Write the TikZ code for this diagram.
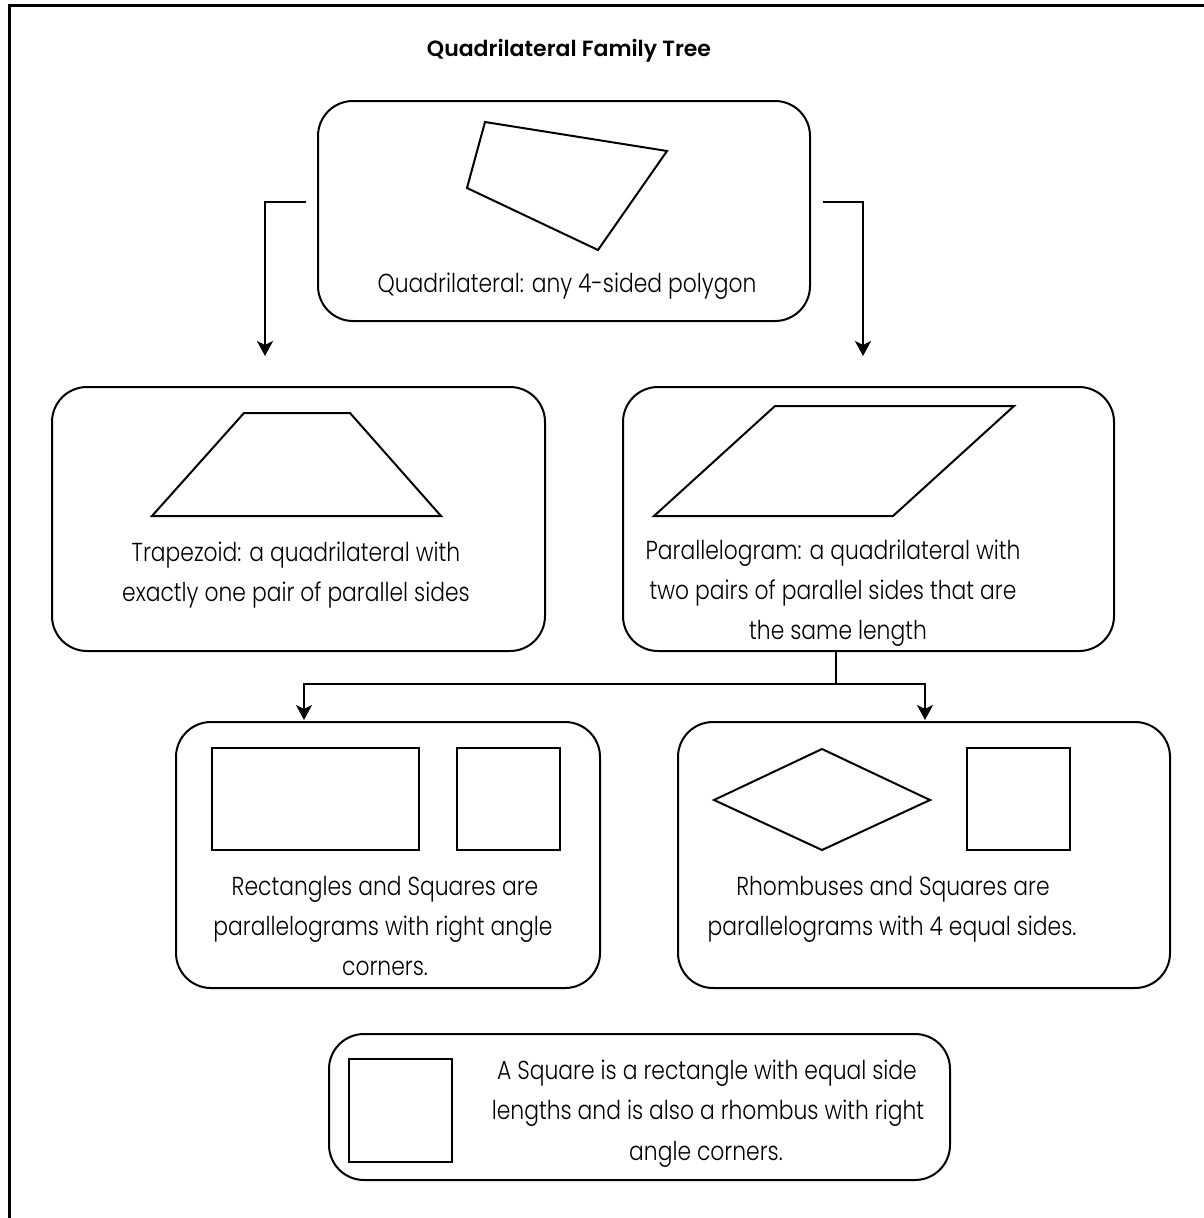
\documentclass[tikz,border=0pt]{standalone}
\usepackage{fontspec}
\setmainfont{Poppins}[UprightFont=* Light, BoldFont=* SemiBold, FakeStretch=0.84]
\newfontfamily\titlefont{Poppins}[UprightFont=* SemiBold]
\usetikzlibrary{arrows.meta}
\begin{document}
\begin{tikzpicture}[x=1pt,y=-1pt,
  box/.style={draw, line width=2pt, rounded corners=35pt, inner sep=0pt},
  shp/.style={draw, line width=2pt, line join=miter},
  lbl/.style={anchor=base, inner sep=0pt, font=\fontsize{26}{40}\selectfont},
  conn/.style={line width=2pt, -{Stealth[length=15pt,width=16pt,inset=4pt]}},
  plain/.style={line width=2pt}]
\path[use as bounding box] (0,0) rectangle (1204,1218);
% frame
\draw[line width=3pt] (9,1218) -- (9,5) -- (1204,5);
% title
\node[anchor=base, inner sep=0pt, font=\titlefont\fontsize{22}{26}\selectfont] (title) at (569,56) {Quadrilateral Family Tree};
% boxes
\node[box, minimum width=492pt, minimum height=220pt] (A) at (564,211) {};
\node[box, minimum width=493pt, minimum height=264pt] (B) at (298.5,519) {};
\node[box, minimum width=491pt, minimum height=264pt] (C) at (868.5,519) {};
\node[box, minimum width=424pt, minimum height=266pt] (D) at (388,855) {};
\node[box, minimum width=492pt, minimum height=266pt] (E) at (924,855) {};
\node[box, minimum width=621pt, minimum height=146pt] (F) at (639.5,1107) {};
% shapes
\draw[shp] (485,122) -- (667,151) -- (598,250) -- (467,188) -- cycle;
\draw[shp] (152,516) -- (244,413) -- (350,413) -- (441,516) -- cycle;
\draw[shp] (654,516) -- (775,406) -- (1014,406) -- (893,516) -- cycle;
\draw[shp] (212,748) rectangle (419,850);
\draw[shp] (457,748) rectangle (560,850);
\draw[shp] (714,800) -- (822,749) -- (930,800) -- (822,850) -- cycle;
\draw[shp] (967,748) rectangle (1070,850);
\draw[shp] (349,1059) rectangle (452,1162);
% texts
\node[lbl] (tA) at (567,292) {Quadrilateral: any 4-sided polygon};
\node[lbl] (tB1) at (296,561) {Trapezoid: a quadrilateral with};
\node[lbl] (tB2) at (296,601) {exactly one pair of parallel sides};
\node[lbl] (tC1) at (833,559) {Parallelogram: a quadrilateral with};
\node[lbl] (tC2) at (833,599) {two pairs of parallel sides that are};
\node[lbl] (tC3) at (838,639) {the same length};
\node[lbl] (tD1) at (385,895) {Rectangles and Squares are};
\node[lbl] (tD2) at (383,935) {parallelograms with right angle};
\node[lbl] (tD3) at (385,975) {corners.};
\node[lbl] (tE1) at (893,895) {Rhombuses and Squares are};
\node[lbl] (tE2) at (892,935) {parallelograms with 4 equal sides.};
\node[lbl] (tF1) at (707,1079) {A Square is a rectangle with equal side};
\node[lbl] (tF2) at (708,1119) {lengths and is also a rhombus with right};
\node[lbl] (tF3) at (706,1160) {angle corners.};
% connectors
\coordinate (tlS) at (306,202);
\coordinate (tlE) at (265,356);
\coordinate (trS) at (823,202);
\coordinate (trE) at (863,356);
\draw[conn] (tlS) -| (tlE);
\draw[conn] (trS) -| (trE);
\coordinate (split) at (836,684);
\coordinate (dTip) at (304,720);
\coordinate (eTip) at (925,720);
\draw[plain] (C.south -| split) -- (split);
\draw[conn] (split) -| (dTip);
\draw[conn] (split) -| (eTip);
\end{tikzpicture}
\end{document}
